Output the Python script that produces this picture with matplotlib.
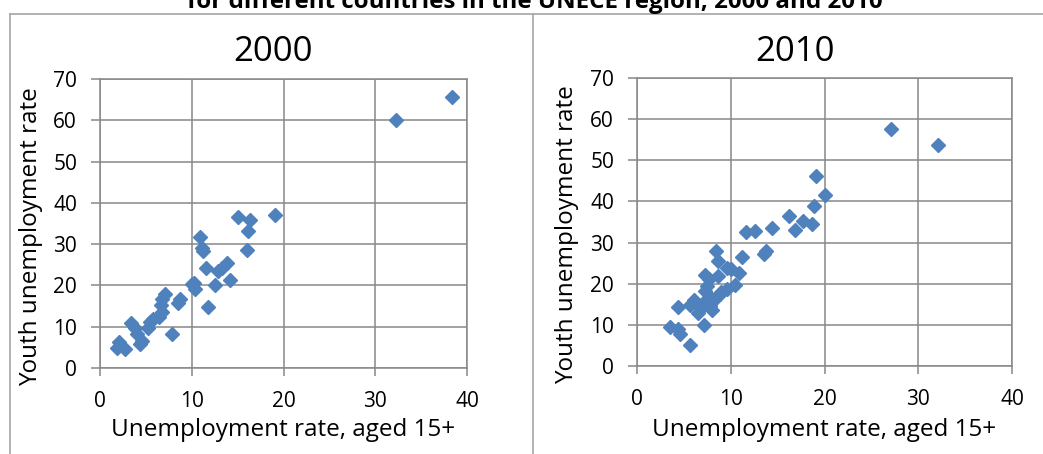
import matplotlib
matplotlib.use("Agg")
import matplotlib.pyplot as plt
from matplotlib.lines import Line2D

plt.rcParams['font.family'] = ['Open Sans', 'DejaVu Sans']

# ---- data ----
x2000 = [38.4, 32.3, 19.1, 15.0, 16.35, 16.1, 16.0, 10.9, 11.1, 11.2, 11.5, 13.8, 13.3,
         12.9, 14.2, 12.5, 11.75, 10.25, 10.4, 10.0, 8.76, 8.5, 7.1, 6.8, 6.6, 6.75, 6.4,
         5.8, 5.4, 5.2, 3.4, 3.8, 4.0, 4.6, 4.4, 7.85, 2.1, 1.8, 2.7]
y2000 = [65.7, 60.0, 37.0, 36.5, 35.9, 33.2, 28.7, 31.7, 29.0, 28.3, 24.2, 25.5, 24.3,
         23.5, 21.2, 20.2, 14.7, 20.6, 19.2, 20.3, 16.7, 15.7, 18.0, 16.7, 15.3, 13.5, 12.4,
         11.8, 11.2, 9.6, 11.0, 9.6, 8.3, 6.5, 5.7, 8.3, 6.3, 4.9, 4.65]

x2010 = [27.1, 32.1, 19.1, 20.1, 18.9, 16.2, 17.7, 18.7, 16.8, 14.35, 12.6, 11.6, 13.8,
         13.5, 11.2, 8.4, 8.6, 9.6, 10.0, 10.9, 10.5, 9.6, 8.6, 7.2, 7.7, 7.5, 7.2, 8.8,
         7.9, 7.2, 6.1, 5.6, 6.8, 4.35, 6.5, 7.1, 3.5, 4.4, 4.6, 5.7, 8.2, 7.8, 9.0, 8.0]
y2010 = [57.6, 53.8, 46.3, 41.6, 38.9, 36.4, 35.2, 34.6, 33.0, 33.5, 32.8, 32.5, 28.0,
         27.2, 26.4, 28.0, 25.6, 23.8, 23.5, 22.5, 19.7, 18.6, 21.9, 22.1, 21.1, 19.4, 18.2,
         17.4, 16.6, 15.7, 16.1, 14.9, 14.1, 14.3, 12.9, 10.0, 9.4, 9.0, 7.8, 5.2, 16.0, 14.5,
         18.0, 13.5]

panel_titles = ["2000", "2010"]
suptitle = "for different countries in the UNECE region, 2000 and 2010"
xlabel = "Unemployment rate, aged 15+"
ylabel = "Youth unemployment rate"
xticks = [0, 10, 20, 30, 40]
yticks = [0, 10, 20, 30, 40, 50, 60, 70]

# ---- figure ----
W, H = 1043, 454
fig = plt.figure(figsize=(W / 100, H / 100), dpi=100)

def px_axes(x0, x1, ytop, ybot):
    return fig.add_axes([x0 / W, 1 - ybot / H, (x1 - x0) / W, (ybot - ytop) / H])

grid_c = "#888888"
marker_c = "#4F81BD"

axes = [px_axes(100, 467, 79, 368), px_axes(637, 1012, 78, 366)]
datasets = [(x2000, y2000), (x2010, y2010)]
title_x = [273, 795]
xlab_y = [-68 / 289, -70 / 288]

for ax, (xs, ys), t, tx, ly in zip(axes, datasets, panel_titles, title_x, xlab_y):
    ax.plot(xs, ys, linestyle="none", marker="D", markersize=7.1,
            color=marker_c, markeredgecolor=marker_c, zorder=3, clip_on=False)
    ax.set_xlim(0, 40)
    ax.set_ylim(0, 70)
    ax.set_xticks(xticks)
    ax.set_yticks(yticks)
    ax.grid(True, color=grid_c, linewidth=1.1)
    ax.set_axisbelow(True)
    for s in ax.spines.values():
        s.set_color(grid_c)
        s.set_linewidth(1.1)
    ax.tick_params(axis="both", direction="out", color=grid_c, width=1.1,
                   labelsize=15, labelcolor="black")
    ax.tick_params(axis="x", length=5.5, pad=11)
    ax.tick_params(axis="y", length=6.5, pad=10)
    ax.set_xlabel(xlabel, fontsize=17.5)
    ax.xaxis.label.set_va("baseline")
    ax.xaxis.set_label_coords(0.5, ly)
    ax.set_ylabel(ylabel, fontsize=17.5)
    ax.yaxis.set_label_coords(-0.155, 0.455)
    fig.text(tx / W, 1 - 52 / H, t, fontsize=25, ha="center", va="center")

# top (clipped) title
fig.text(535 / W, 1 - 8.5 / H, suptitle, fontsize=17.4, fontweight="bold",
         ha="center", va="baseline")

# panel borders
bc = "#a6a6a6"
for xx in (10, 533):
    fig.add_artist(Line2D([xx / W, xx / W], [0, 1 - 14 / H], color=bc, linewidth=1.2,
                          transform=fig.transFigure))
fig.add_artist(Line2D([10 / W, 1.0], [1 - 14 / H, 1 - 14 / H], color=bc, linewidth=1.2,
                      transform=fig.transFigure))

fig.savefig("out.png", dpi=100)
